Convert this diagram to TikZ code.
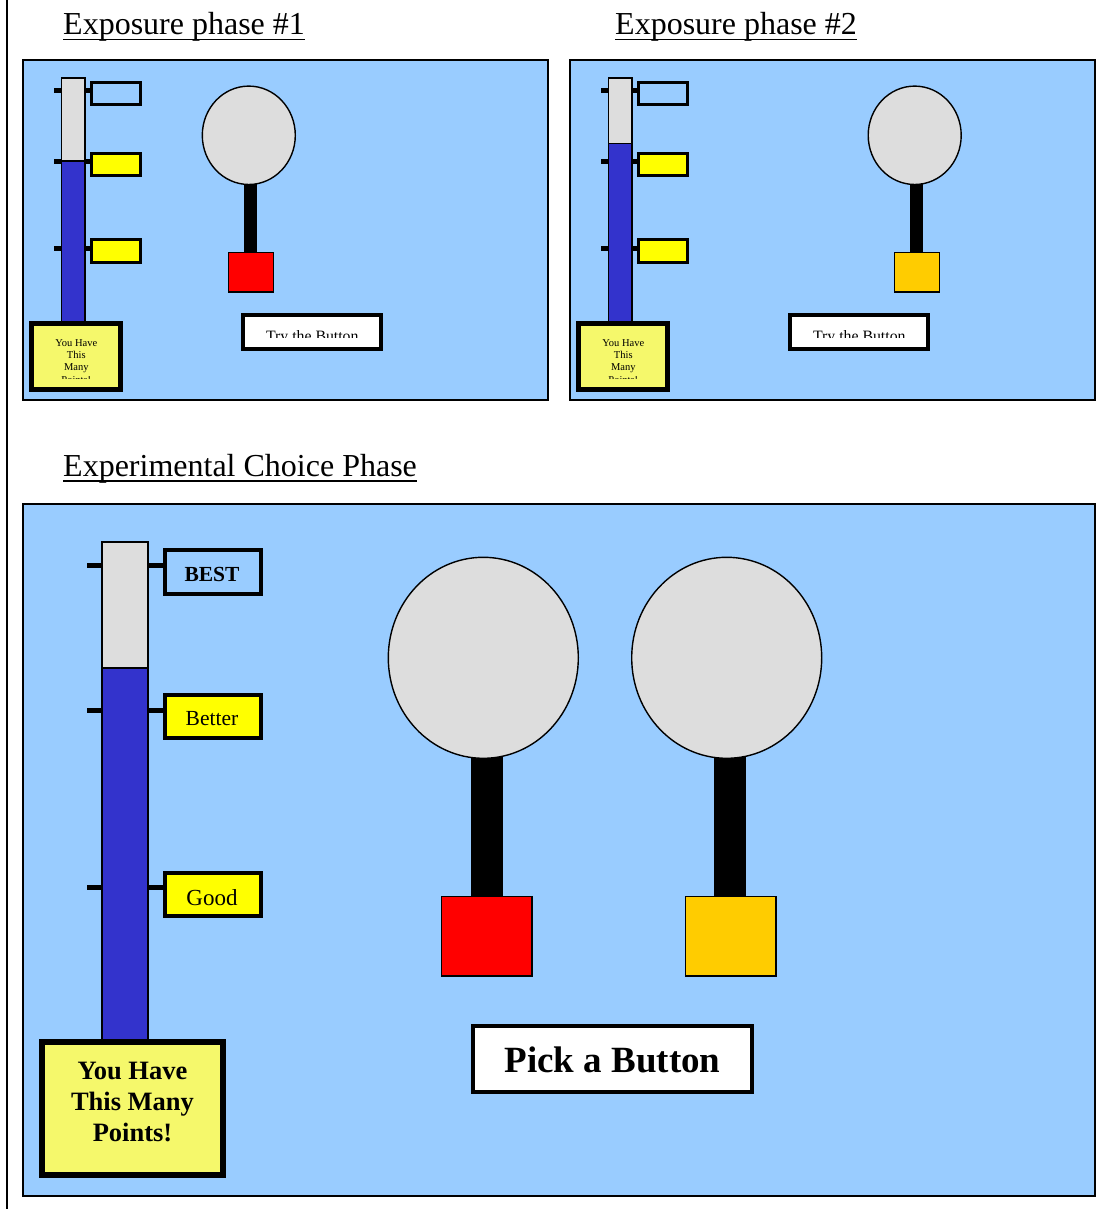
\documentclass[tikz,border=0pt]{standalone}
\usepackage{fontspec}
\setmainfont{Liberation Serif}
\definecolor{panelblue}{HTML}{99CCFF}
\definecolor{barblue}{HTML}{3333CC}
\definecolor{lgray}{HTML}{DDDDDD}
\definecolor{yel}{HTML}{FFFF00}
\definecolor{ptyel}{HTML}{F5F86B}
\definecolor{btnred}{HTML}{FF0000}
\definecolor{btnorange}{HTML}{FFCC00}
\tikzset{
  panel/.style={draw=black, line width=1.8pt, fill=panelblue},
  barline/.style={draw=black, line width=1.3pt},
  tickS/.style={line width=5pt},
  tickB/.style={line width=5pt},
  lblS/.style={draw=black, line width=3pt},
  lblB/.style={draw=black, line width=4pt},
  ptsS/.style={draw=black, line width=5pt, fill=ptyel},
  ptsB/.style={draw=black, line width=6pt, fill=ptyel},
  trybox/.style={draw=black, line width=4pt, fill=white},
  ball/.style={draw=black, line width=1.4pt, fill=lgray},
  btn/.style={draw=black, line width=1.4pt},
  txt/.style={inner sep=0pt, anchor=base},
  head/.style={inner sep=0pt, anchor=base west, font=\fontsize{32}{38}\selectfont},
}
\begin{document}
\begin{tikzpicture}[x=1pt,y=-1pt]
\useasboundingbox (0,0) rectangle (1104,1209);
\fill[white] (0,0) rectangle (1104,1209);
% left rule
\draw[line width=2pt] (7,0) -- (7,1209);

% headings
\node[head] (h1) at (63,34.5) {Exposure phase \#1};
\node[head] (h2) at (615,34.5) {Exposure phase \#2};
\node[head] (h3) at (63,476) {Experimental Choice Phase};
\foreach \h in {h1,h2,h3}
  \draw[line width=1.8pt] ([yshift=-5pt]\h.base west) -- ([yshift=-5pt]\h.base east);

% ---------- small panels ----------
\foreach \dx/\split/\k/\cx/\bc in {0/161/1/248.8/btnred, 547/143.3/2/914.7/btnorange}{
  \begin{scope}[xshift=\dx]
    \path[panel] (22.9,59.9) rectangle (548.1,400.1);
    % ticks
    \foreach \ty in {91,161.5,248}{
      \draw[tickS] (54,\ty) -- (61.5,\ty);
      \draw[tickS] (84.8,\ty) -- (90.5,\ty);
    }
    % bar
    \path[barline, fill=lgray] (61.5,78) rectangle (85,\split);
    \path[barline, fill=barblue] (61.5,\split) rectangle (85,322);
    % labels
    \path[lblS] (91.5,82.5) rectangle (140.2,104.5);
    \path[lblS, fill=yel] (91.5,153.2) rectangle (140.2,175.8);
    \path[lblS, fill=yel] (91.5,239.8) rectangle (140.2,262.8);
    % points box
    \path[ptsS] (31.8,323.2) rectangle (120.9,389.8);
    \begin{scope}
      \clip (28,325) rectangle (125,378);
      \node[txt, font=\fontsize{10.5}{12}\selectfont] (pa\k) at (76.3,346.3) {You Have};
      \node[txt, font=\fontsize{10.5}{12}\selectfont] (pb\k) at (76.3,358.5) {This};
      \node[txt, font=\fontsize{10.5}{12}\selectfont] (pc\k) at (76.3,370.8) {Many};
      \node[txt, font=\fontsize{10.5}{12}\selectfont] (pd\k) at (76.3,383) {Points!};
    \end{scope}
    % try box
    \path[trybox] (243.4,315.3) rectangle (381.1,348.7);
    \begin{scope}
      \clip (240,318) rectangle (385,337.6);
      \node[txt, font=\fontsize{15.8}{18}\selectfont] (try\k) at (312.3,341) {Try the Button};
    \end{scope}
  \end{scope}
  % lever
  \fill[black] (\cx-4.8,180) rectangle (\cx+7.8,252);
  \path[ball] (\cx,135.3) ellipse [x radius=46.5, y radius=49.2];
  \path[btn, fill=\bc] (\cx-20.5,252.4) rectangle (\cx+24.5,292);
}

% ---------- big panel ----------
\path[panel] (22.9,503.9) rectangle (1095.1,1196.1);
\foreach \ty in {565,710,887.7}{
  \draw[tickB] (87,\ty) -- (102,\ty);
  \draw[tickB] (148,\ty) -- (163,\ty);
}
\path[barline, fill=lgray] (102,542) rectangle (148,668);
\path[barline, fill=barblue] (102,668) rectangle (148,1041);
\path[lblB] (164.7,550.3) rectangle (261.3,593.7);
\path[lblB, fill=yel] (164.7,695.3) rectangle (261.3,738.3);
\path[lblB, fill=yel] (164.7,872.7) rectangle (261.3,915.7);
\node[txt, font=\fontsize{21.5}{25}\selectfont\bfseries] (best) at (212,581) {BEST};
\node[txt, font=\fontsize{21.5}{25}\selectfont] (better) at (212,725) {Better};
\node[txt, font=\fontsize{23}{27}\selectfont] (good) at (212,905) {Good};

\path[ptsB] (42,1042) rectangle (223,1175);
\node[txt, font=\fontsize{26.5}{31}\selectfont\bfseries] (bpa) at (132.5,1079) {You Have};
\node[txt, font=\fontsize{26.5}{31}\selectfont\bfseries] (bpb) at (132.5,1110) {This Many};
\node[txt, font=\fontsize{26.5}{31}\selectfont\bfseries] (bpc) at (132.5,1141) {Points!};

% levers
\fill[black] (471,750) rectangle (502.7,896);
\fill[black] (714.3,750) rectangle (746,896);
\path[ball] (483.3,657.8) ellipse [x radius=95, y radius=100.5];
\path[ball] (726.7,657.8) ellipse [x radius=95, y radius=100.5];
\path[btn, fill=btnred] (441.7,896.4) rectangle (532,976);
\path[btn, fill=btnorange] (685.4,896.4) rectangle (776,976);

\path[trybox] (473.2,1026.2) rectangle (751.8,1091.8);
\node[txt, font=\fontsize{37}{42}\selectfont\bfseries] (pick) at (612.5,1072.3) {Pick a Button};
\end{tikzpicture}
\end{document}
